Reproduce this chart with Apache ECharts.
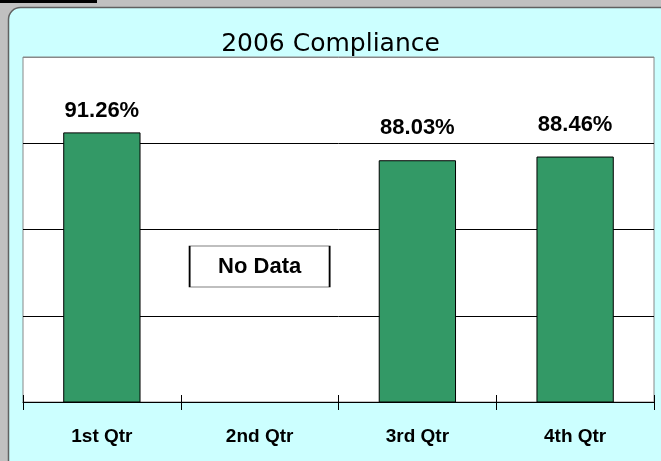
<!DOCTYPE html>
<html>
<head>
<meta charset="utf-8">
<script src="https://cdn.jsdelivr.net/npm/echarts@6/dist/echarts.min.js"></script>
<style>
  html, body { margin: 0; padding: 0; background: #c0c0c0; }
  #chart { width: 661px; height: 461px; }
</style>
</head>
<body>
<div id="chart"></div>
<script>
// 数据
const quarters = ['1st Qtr', '2nd Qtr', '3rd Qtr', '4th Qtr']
const compliance = [91.26, null, 88.03, 88.46]
const yMin = 60
const yMax = 100
const yStep = 10
const noDataQuarter = '2nd Qtr'
const noDataLevel = 75.7

// 标签离柱顶的距离 (Excel 的标签位置不完全一致)
const labelGap = [10, 10, 21, 21]

const chart = echarts.init(document.getElementById('chart'))

const option = {
  backgroundColor: '#c0c0c0',
  animation: false,
  graphic: [
    {
      type: 'rect',
      z: -10,
      silent: true,
      shape: { x: 0, y: 0, width: 97, height: 3 },
      style: { fill: '#000' }
    },
    {
      type: 'rect',
      z: -10,
      silent: true,
      shape: { x: 8.5, y: 7.5, width: 665, height: 465, r: 12 },
      style: { fill: '#ccffff', stroke: '#606060', lineWidth: 1.5 }
    }
  ],
  title: {
    text: '2006 Compliance',
    left: 'center',
    top: 27,
    textStyle: {
      fontFamily: 'DejaVu Sans',
      fontWeight: 'normal',
      fontSize: 25,
      color: '#000'
    }
  },
  grid: {
    left: 23,
    right: 7,
    top: 57,
    bottom: 59,
    show: true,
    backgroundColor: '#fff',
    borderColor: '#888',
    borderWidth: 1
  },
  xAxis: [
    {
      type: 'category',
      data: quarters,
      boundaryGap: true,
      axisLine: { lineStyle: { color: '#000', width: 1 } },
      axisTick: { show: true, alignWithLabel: false, length: 8, lineStyle: { color: '#000' } },
      axisLabel: {
        color: '#000',
        fontFamily: 'Liberation Sans',
        fontWeight: 'bold',
        fontSize: 19,
        margin: 25
      }
    },
    {
      type: 'category',
      data: quarters,
      position: 'bottom',
      boundaryGap: true,
      axisLine: { show: false },
      axisTick: { show: true, inside: true, length: 7, lineStyle: { color: '#000' } },
      axisLabel: { show: false }
    }
  ],
  yAxis: {
    type: 'value',
    min: yMin,
    max: yMax,
    interval: yStep,
    axisLine: { show: false },
    axisTick: { show: false },
    axisLabel: { show: false },
    splitLine: {
      lineStyle: { color: ['#000', '#000', '#000', '#000', '#888'], width: 1 }
    }
  },
  series: [
    {
      type: 'bar',
      data: compliance.map((v, i) => ({ value: v, label: { distance: labelGap[i] } })),
      barWidth: '49%',
      itemStyle: {
        color: '#339966',
        borderColor: '#000',
        borderWidth: 1
      },
      label: {
        show: true,
        position: 'top',
        color: '#000',
        fontFamily: 'Liberation Sans',
        fontWeight: 'bold',
        fontSize: 22,
        formatter: (p) => p.value.toFixed(2) + '%'
      },
      markPoint: {
        silent: true,
        symbol: 'rect',
        symbolSize: [140, 41],
        itemStyle: { color: '#fff', borderColor: '#000', borderWidth: 1 },
        label: {
          show: true,
          position: 'inside',
          color: '#000',
          fontFamily: 'Liberation Sans',
          fontWeight: 'bold',
          fontSize: 22,
          formatter: 'No Data'
        },
        data: [{ coord: [noDataQuarter, noDataLevel] }]
      }
    }
  ]
}

chart.setOption(option)
</script>
</body>
</html>
